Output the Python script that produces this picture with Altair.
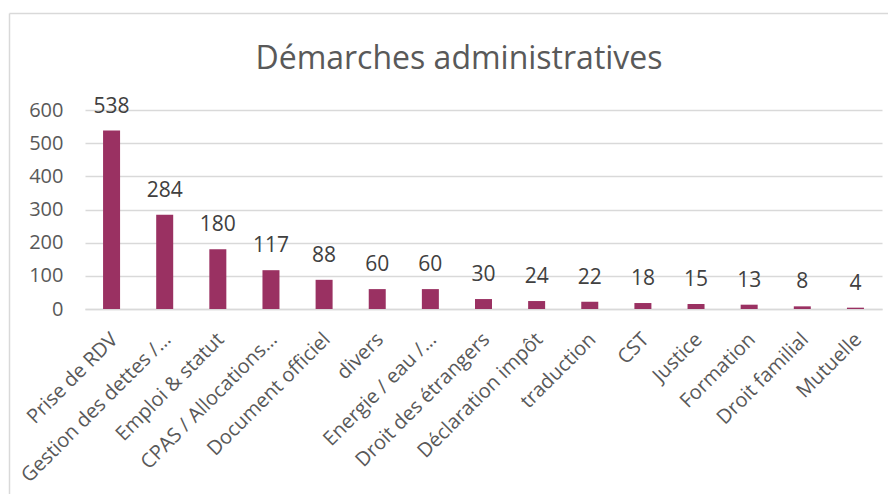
import altair as alt
import pandas as pd

categories = ["Prise de RDV", "Gestion des dettes /…", "Emploi & statut",
              "CPAS / Allocations…", "Document officiel", "divers",
              "Energie / eau /…", "Droit des étrangers", "Déclaration impôt",
              "traduction", "CST", "Justice", "Formation", "Droit familial",
              "Mutuelle"]
values = [538, 284, 180, 117, 88, 60, 60, 30, 24, 22, 18, 15, 13, 8, 4]
y_ticks = [0, 100, 200, 300, 400, 500, 600]
title_text = "Démarches administratives"

df = pd.DataFrame({"cat": categories, "val": values})

FONT = "Open Sans"
GRAY = "#595959"
BAR = "#9A3162"

x_enc = alt.X("cat:N", sort=categories, title=None,
              scale=alt.Scale(paddingInner=0.68, paddingOuter=0.34),
              axis=alt.Axis(labelAngle=-45, labelAlign="right", labelBaseline="middle",
                            labelPadding=27, labelOffset=3, ticks=False,
                            domainColor="#d9d9d9", domainWidth=1.3,
                            labelFontSize=20, labelColor=GRAY, labelFont=FONT,
                            labelLimit=400, labelOverlap=False))
y_enc = alt.Y("val:Q", title=None,
              scale=alt.Scale(domain=[0, 600], nice=False),
              axis=alt.Axis(values=y_ticks, tickCount=7, ticks=False, domain=False,
                            gridColor="#d9d9d9", gridWidth=1.3,
                            labelFontSize=20, labelColor=GRAY, labelFont=FONT,
                            labelPadding=22, labelOverlap=False))

bars = alt.Chart(df).mark_bar(color=BAR).encode(x=x_enc, y=y_enc)
text = alt.Chart(df).mark_text(font=FONT, fontSize=21, color="#404040",
                               baseline="alphabetic", dy=-18).encode(
    x=x_enc, y=y_enc, text="val:Q")

one = alt.Data(values=[{"t": title_text}])
title = alt.Chart(one).mark_text(font=FONT, fontSize=32, color=GRAY,
                                 baseline="alphabetic", align="center").encode(
    x=alt.value(374), y=alt.value(-41), text="t:N")
left_line = alt.Chart(one).mark_rule(color="#d9d9d9", strokeWidth=1.5).encode(
    x=alt.value(-75.5), y=alt.value(-96.5), y2=alt.value(400))
top_line = alt.Chart(one).mark_rule(color="#d9d9d9", strokeWidth=1.5).encode(
    x=alt.value(-75.5), x2=alt.value(820), y=alt.value(-96.5))

chart = alt.layer(bars, text, title, left_line, top_line).properties(
    width=797, height=199,
    autosize=alt.AutoSizeParams(type="none"),
    padding={"left": 77, "top": 102, "right": 6, "bottom": 185},
).configure_view(stroke=None)

chart.save("out.html", embed_options={"renderer": "svg", "actions": False})
